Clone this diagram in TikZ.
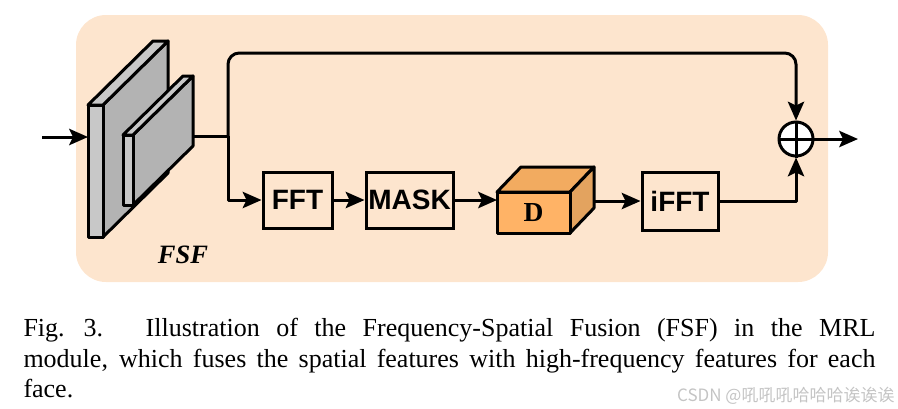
\documentclass[tikz,border=0pt]{standalone}
\usepackage{fontspec}
\setmainfont{Liberation Serif}
\setsansfont{Liberation Sans}
\newfontfamily\cjkfont{Noto Sans CJK SC}
\usetikzlibrary{arrows.meta}
\definecolor{bgpeach}{HTML}{FDE5CE}
\definecolor{slabfront}{HTML}{C8C8C8}
\definecolor{slabside}{HTML}{B3B3B3}
\definecolor{cubefront}{HTML}{FFB366}
\definecolor{cubetop}{HTML}{F2AB60}
\definecolor{cubeside}{HTML}{E3A35F}
\definecolor{wmgray}{HTML}{C4C4C4}
\tikzset{
  ln/.style={line width=1.2pt, line join=round},
  arr/.style={ln, -{Stealth[length=7.5pt,width=6.5pt,inset=1.5pt]}},
  opbox/.style={draw, line width=1.2pt, minimum height=22.4pt, inner sep=0pt,
    font=\sffamily\bfseries\fontsize{11.2}{13}\selectfont},
  face/.style={draw, line width=1.2pt, line join=round},
}
\begin{document}
\begin{tikzpicture}[x=0.4pt,y=-0.4pt]
\useasboundingbox (0,0) rectangle (898,408);
% background panel
\fill[bgpeach, rounded corners=12pt] (76,15) rectangle (828,282);

% big slab
\filldraw[face, fill=slabside] (103,105) -- (168,41) -- (168,173) -- (103,237) -- cycle;
\filldraw[face, fill=slabfront] (88,105) -- (103,105) -- (168,41) -- (153,41) -- cycle;
\filldraw[face, fill=slabfront] (88,105) rectangle (103,237);
% small slab
\filldraw[face, fill=slabside] (133,135) -- (193,76) -- (193,146) -- (133,205) -- cycle;
\filldraw[face, fill=slabfront] (123,135) -- (133,135) -- (193,76) -- (183,76) -- cycle;
\filldraw[face, fill=slabfront] (123,135) rectangle (133,205);

\coordinate (inL) at (42,137);
\coordinate (bigL) at (88,137);
\coordinate (smallR) at (193,136);
\coordinate (junc) at (228,136);

\node[font=\bfseries\itshape\fontsize{10.6}{12}\selectfont, anchor=base] (fsf) at (183,263) {FSF};

% operation boxes
\node[opbox, minimum width=27.6pt] (fft) at (297.5,200) {FFT};
\node[opbox, minimum width=34.8pt] (mask) at (409.5,200) {MASK};
\node[opbox, minimum width=30.4pt, minimum height=23.2pt] (ifft) at (680,201) {iFFT};

% D cube
\filldraw[face, fill=cubetop] (497,192) -- (570,192) -- (594,167) -- (521,167) -- cycle;
\filldraw[face, fill=cubeside] (570,192) -- (594,167) -- (594,208) -- (570,233) -- cycle;
\filldraw[face, fill=cubefront] (497,192) rectangle (570,233);
\node[font=\bfseries\fontsize{11}{13}\selectfont] (dlab) at (533.5,213) {D};
\coordinate (Din) at (497,200);
\coordinate (Dout) at (594,201);

% sum node
\node[draw, circle, line width=1.2pt, fill=white, minimum size=13.6pt, inner sep=0pt] (sum) at (796,139) {};
\draw[ln] (sum.north) -- (sum.south);
\draw[ln] (sum.west) -- (sum.east);
\coordinate (outR) at (858,139);

% connectors
\draw[arr] (inL) -- (bigL);
\draw[ln] (smallR) -- (junc);
\draw[arr, rounded corners=4.5pt] (junc) -- (228,53) -- (796,53) -- (sum.north);
\draw[arr] (junc) -- (228,200) -- (fft.west);
\draw[arr] (fft.east) -- (mask.west);
\draw[arr] (mask.east) -- (Din);
\draw[arr] (Dout) -- (ifft.west);
\draw[arr] (ifft.east) -- (796,201) -- (sum.south);
\draw[arr] (sum.east) -- (outR);

% caption
\begin{scope}[every node/.style={inner sep=0pt, anchor=base west, font=\fontsize{10.4}{12.2}\selectfont}]
\node (cap1) at (23,336) {\makebox[340.8pt][s]{Fig.\hspace{7.6pt}3.\hspace{17pt}Illustration of the Frequency-Spatial Fusion (FSF) in the MRL}};
\node (cap2) at (23,367) {\makebox[340.8pt][s]{module, which fuses the spatial features with high-frequency features for each}};
\node (cap3) at (23,397) {face.};
\end{scope}
\node[inner sep=0pt, anchor=base east, text=wmgray, font=\cjkfont\fontsize{6.8}{8}\selectfont] (wm) at (895,401) {CSDN @吼吼吼哈哈哈诶诶诶};
\end{tikzpicture}
\end{document}
